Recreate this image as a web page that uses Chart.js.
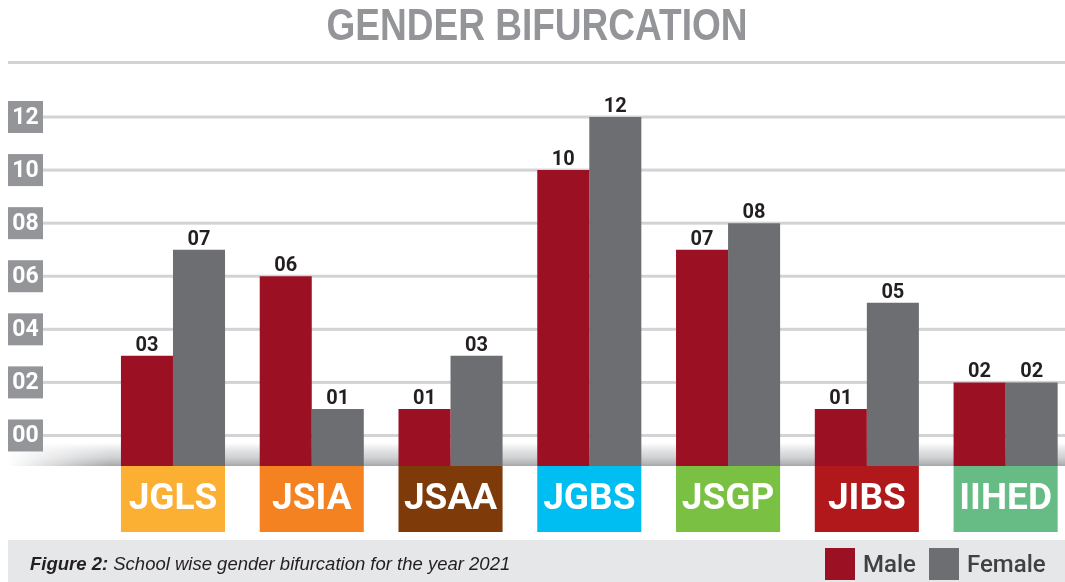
<!DOCTYPE html>
<html>
<head>
<meta charset="utf-8">
<script src="https://cdn.jsdelivr.net/npm/chart.js@4/dist/chart.umd.min.js"></script>
<style>
  html, body { margin: 0; padding: 0; background: #fff; overflow: hidden; }
  #wrap { position: relative; width: 1080px; height: 582px; }
</style>
</head>
<body>
<div id="wrap"><canvas id="genderChart" width="1080" height="582"></canvas></div>
<script>
// dati
var schools = ['JGLS', 'JSIA', 'JSAA', 'JGBS', 'JSGP', 'JIBS', 'IIHED'];
var male = [3, 6, 1, 10, 7, 1, 2];
var female = [7, 1, 3, 12, 8, 5, 2];
var yTicks = [0, 2, 4, 6, 8, 10, 12];
var seriesNames = ['Male', 'Female'];

// colori
var maleColor = '#9c1024';
var femaleColor = '#6d6e71';
var schoolColors = ['#fbb034', '#f58220', '#7e3a08', '#00bef2', '#7ac143', '#b0181c', '#67bb85'];
var yMin = -1.15;

function pad(v) {
  return (v < 10 ? '0' : '') + v;
}

// sfondo: titolo, griglia, ombra, etichette asse y
var backgroundPlugin = {
  id: 'background',
  beforeDatasetsDraw: function(chart) {
    var ctx = chart.ctx;
    var y = chart.scales.y;
    var area = chart.chartArea;
    ctx.save();

    // titolo (compresso in orizzontale)
    ctx.fillStyle = '#939598';
    ctx.font = 'bold 45px "Liberation Sans", Arial, sans-serif';
    ctx.textAlign = 'center';
    ctx.textBaseline = 'alphabetic';
    var tw = ctx.measureText('GENDER BIFURCATION').width;
    ctx.save();
    ctx.translate(537, 40);
    ctx.scale(421 / tw, 1);
    ctx.fillText('GENDER BIFURCATION', 0, 0);
    ctx.restore();

    // linea sotto il titolo
    ctx.fillStyle = '#d1d3d4';
    ctx.fillRect(8, 61, 1072, 3);

    // ombra
    var g = ctx.createLinearGradient(0, 443, 0, area.bottom);
    g.addColorStop(0, 'rgba(170,172,175,0)');
    g.addColorStop(0.6, 'rgba(190,192,194,0.7)');
    g.addColorStop(1, 'rgba(165,167,170,1)');
    ctx.fillStyle = g;
    ctx.fillRect(8, 443, 1072, area.bottom - 443);
    var h = ctx.createLinearGradient(8, 0, 110, 0);
    h.addColorStop(0, 'rgba(255,255,255,1)');
    h.addColorStop(1, 'rgba(255,255,255,0)');
    ctx.fillStyle = h;
    ctx.fillRect(8, 443, 102, area.bottom - 443);

    // griglia ed etichette
    yTicks.forEach(function(t) {
      var py = y.getPixelForValue(t);
      ctx.fillStyle = '#d1d3d4';
      ctx.fillRect(43, py - 1.5, 1080 - 43, 3);
      ctx.fillStyle = '#939598';
      ctx.fillRect(8, py - 16, 35, 32);
      ctx.fillStyle = '#ffffff';
      ctx.font = 'bold 23px Roboto, sans-serif';
      ctx.textAlign = 'center';
      ctx.textBaseline = 'middle';
      ctx.fillText(pad(t), 25.5, py + 1);
    });
    ctx.restore();
  }
};

// primo piano: valori, box scuole, didascalia, legenda
var foregroundPlugin = {
  id: 'foreground',
  afterDatasetsDraw: function(chart) {
    var ctx = chart.ctx;
    var x = chart.scales.x;
    var area = chart.chartArea;
    ctx.save();

    // valori sopra le barre
    ctx.fillStyle = '#231f20';
    ctx.font = 'bold 20px Roboto, sans-serif';
    ctx.textAlign = 'center';
    ctx.textBaseline = 'alphabetic';
    chart.data.datasets.forEach(function(ds, di) {
      var meta = chart.getDatasetMeta(di);
      meta.data.forEach(function(bar, i) {
        ctx.fillText(pad(ds.data[i]), bar.x, bar.y - 5);
      });
    });

    // box scuole
    var step = x.getPixelForValue(1) - x.getPixelForValue(0);
    var half = step * 0.375;
    schools.forEach(function(s, i) {
      var cx = x.getPixelForValue(i);
      ctx.fillStyle = schoolColors[i];
      ctx.fillRect(cx - half, area.bottom, half * 2, 66);
      ctx.fillStyle = '#ffffff';
      ctx.font = 'bold 37px Roboto, sans-serif';
      ctx.textAlign = 'center';
      ctx.textBaseline = 'middle';
      ctx.fillText(s, cx, area.bottom + 34);
    });

    // fascia didascalia
    ctx.fillStyle = '#e6e7e8';
    ctx.fillRect(8, 540, 1072, 42);
    ctx.fillStyle = '#231f20';
    ctx.textAlign = 'left';
    ctx.textBaseline = 'alphabetic';
    ctx.font = 'italic bold 18.5px "Liberation Sans", Arial, sans-serif';
    ctx.fillText('Figure 2:', 30, 570);
    var w = ctx.measureText('Figure 2: ').width;
    ctx.font = 'italic 18.5px "Liberation Sans", Arial, sans-serif';
    ctx.fillText('School wise gender bifurcation for the year 2021', 30 + w, 570);

    // legenda
    var legendX = [825, 929];
    var legendColors = [maleColor, femaleColor];
    seriesNames.forEach(function(name, i) {
      ctx.fillStyle = legendColors[i];
      ctx.fillRect(legendX[i], 548, 30, 32);
      ctx.fillStyle = '#414042';
      ctx.font = '500 24px Roboto, sans-serif';
      ctx.fillText(name, legendX[i] + 38, 572);
    });
    ctx.restore();
  }
};

var ctx = document.getElementById('genderChart').getContext('2d');
var myChart = new Chart(ctx, {
  type: 'bar',
  data: {
    labels: schools,
    datasets: [{
      label: seriesNames[0],
      data: male,
      backgroundColor: maleColor,
      base: yMin,
      categoryPercentage: 0.75,
      barPercentage: 1
    }, {
      label: seriesNames[1],
      data: female,
      backgroundColor: femaleColor,
      base: yMin,
      categoryPercentage: 0.75,
      barPercentage: 1
    }]
  },
  options: {
    responsive: false,
    animation: false,
    devicePixelRatio: 1,
    layout: {
      padding: { left: 103.6, right: 5, top: 117, bottom: 116 }
    },
    plugins: {
      legend: { display: false },
      tooltip: { enabled: false }
    },
    scales: {
      x: { display: false },
      y: { display: false, min: yMin, max: 12 }
    }
  },
  plugins: [backgroundPlugin, foregroundPlugin]
});
</script>
</body>
</html>
